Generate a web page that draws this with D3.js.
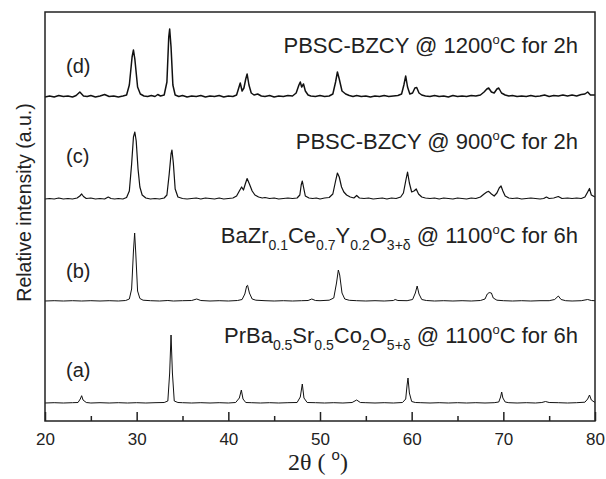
<!DOCTYPE html>
<html>
<head>
<meta charset="utf-8">
<script src="https://cdn.jsdelivr.net/npm/d3@7"></script>
<style>
  body { margin: 0; background: #fff; }
  text { font-family: "Liberation Sans", Arial, sans-serif; fill: #222; }
</style>
</head>
<body>
<div id="drawing_region"></div>
<script>
// 2theta (deg) vs intensity (a.u.)
const patternA = [[20,0],[21,0.3],[22,0],[23,0.3],[23.6,0.5],[23.85,4],[24.0,7.3],[24.15,3],[24.5,0.5],[25,0],[26,0.3],[27,0],[28,0.3],[29,0],[30,0.3],[31,0],[32,0.3],[33,0.5],[33.4,2],[33.6,30],[33.75,68],[33.9,30],[34.1,2],[34.5,0.5],[35,0.3],[36,0],[37,0.3],[38,0],[39,0.3],[40,0],[40.8,0.5],[41.2,5],[41.42,13],[41.6,4],[41.9,0.5],[42.5,0.3],[43.5,0],[44.5,0.3],[45.5,0],[46.5,0.3],[47.5,0.5],[47.85,6],[48.07,19],[48.25,5],[48.6,0.5],[49.5,0.3],[50.5,0],[51.5,0.3],[52.5,0],[53.5,0.5],[54.0,3],[54.4,0.5],[55,0.3],[56,0],[57,0.3],[58,0],[59,0.5],[59.35,4],[59.5,18],[59.6,25],[59.75,10],[60,1.5],[60.4,0.5],[61,0.3],[62,0],[63,0.3],[64,0],[65,0.3],[66,0],[67,0.3],[68,0],[69,0.3],[69.5,1],[69.7,6],[69.82,11],[69.95,5],[70.2,1],[70.6,0.3],[71.5,0],[72.5,0.3],[73.5,0],[74.2,0.5],[74.6,1.5],[75,0.5],[76,0.3],[77,0],[78,0.3],[78.9,0.8],[79.2,4],[79.4,8],[79.6,3],[80,0.5]];

const patternB = [[20,0],[21,0.3],[22,0],[23,0.3],[24,0],[25,0.3],[26,0],[27,0.3],[28,0],[28.8,0.5],[29.2,2],[29.45,12],[29.65,50],[29.78,68],[29.9,48],[30.1,10],[30.35,2.5],[30.7,0.8],[31.5,0.3],[32.5,0],[33.4,0.5],[34,0],[35,0.3],[36,0.5],[36.55,2],[37,0.5],[38,0],[39,0.3],[40,0],[41,0.5],[41.5,1.5],[41.8,7],[42.0,15],[42.1,15.7],[42.3,8],[42.6,2],[43,0.8],[44,0.3],[45,0],[46,0.3],[47,0],[48,0.3],[48.7,0.5],[49.1,2],[49.5,0.5],[50,0.3],[51,0.8],[51.5,3],[51.8,18],[52.0,31],[52.15,26],[52.4,8],[52.7,2],[53.2,0.7],[54,0.3],[55,0],[56,0.3],[57,0],[58,0.5],[58.2,1.5],[58.5,0.5],[59.5,0.3],[60.1,1.5],[60.4,8],[60.6,15],[60.8,7],[61.1,1.5],[61.6,0.5],[62.5,0],[63.5,0.3],[64.5,0],[65.5,0.3],[66.5,0],[67.5,0.5],[68.0,2],[68.25,7],[68.45,8.4],[68.7,8],[68.9,3],[69.3,0.8],[70,0.3],[71,0],[72,0.3],[73,0],[74,0.3],[75,0.3],[75.6,1.5],[76.0,5],[76.3,1.5],[76.8,0.3],[77.5,0],[78.5,0.3],[79.2,1.5],[79.6,0.5],[80,0.3]];

const patternC = [[20,0],[20.5,0.5],[21,0],[21.5,1],[22,0],[22.5,0.5],[23,0],[23.5,1],[23.8,3],[24.0,5],[24.2,2.5],[24.5,0.5],[25,1],[25.5,0],[26,0.5],[26.5,0],[26.9,2],[27.2,0.5],[27.6,0],[28,0.5],[28.5,0],[28.9,1.5],[29.2,8],[29.45,35],[29.65,62],[29.8,67],[29.95,58],[30.15,30],[30.35,12],[30.6,4],[31,1],[31.5,0],[32,0.5],[32.5,0],[33,1],[33.3,4],[33.55,25],[33.75,45],[33.85,49],[34.0,36],[34.2,10],[34.5,2],[35,0.5],[35.5,0],[36,0.5],[36.5,1],[37,0],[37.5,1],[38,0.5],[38.5,0],[39,1],[39.5,0],[40,0.5],[40.5,1],[40.9,3],[41.2,8],[41.45,12],[41.65,9],[41.85,15],[42.05,20.5],[42.3,15],[42.6,8],[42.9,4],[43.3,2],[43.7,1],[44,1.5],[44.5,0.5],[45,1],[45.5,0],[46,0.5],[46.5,1],[47,0.5],[47.5,1],[47.8,4],[47.95,14],[48.07,18],[48.2,12],[48.4,3],[48.8,1],[49.2,0.5],[49.6,1],[50,0],[50.5,1],[51,1.5],[51.4,5],[51.7,18],[51.9,26],[52.1,22],[52.35,12],[52.6,7],[52.9,4],[53.3,2],[53.7,1],[54.0,3.5],[54.3,1],[54.8,0.5],[55.3,1],[55.8,0],[56.3,0.5],[56.8,1],[57.3,0],[57.8,1],[58.3,0.5],[58.8,2],[59.1,6],[59.35,18],[59.55,27],[59.75,16],[60.0,7],[60.25,8],[60.5,10],[60.75,5],[61.1,2],[61.5,1],[62,0.5],[62.5,1],[63,0],[63.5,1],[64,0.5],[64.5,0],[65,1],[65.5,0.5],[66,0],[66.5,1],[67,0.5],[67.5,2],[67.9,5],[68.2,7],[68.4,7.6],[68.7,5],[69.0,3],[69.3,6],[69.55,11],[69.75,13],[69.95,8],[70.2,3],[70.6,1],[71,0.5],[71.5,1],[72,0],[72.5,0.5],[73,1],[73.5,0.5],[74,0],[74.4,0.5],[74.7,2],[75,0.5],[75.5,1],[76,2.5],[76.4,0.5],[77,1],[77.5,0.5],[78,1],[78.5,0.5],[78.9,2],[79.2,7],[79.4,10.5],[79.6,4],[80,2]];

const patternD = [[20,0],[20.5,1],[21,0],[21.5,1.5],[22,0.5],[22.5,1],[23,0],[23.4,1.5],[23.8,5],[24.2,1],[24.6,0.5],[25,1.5],[25.5,0],[26,1],[26.5,2.5],[27,0.5],[27.5,1],[28,0],[28.5,1],[28.9,2],[29.2,12],[29.5,40],[29.65,47],[29.8,38],[30.1,10],[30.4,3],[30.8,1],[31.2,0.5],[31.6,1.5],[32,0.5],[32.3,2.5],[32.6,1],[33,2],[33.3,15],[33.5,60],[33.6,68],[33.75,50],[33.95,12],[34.2,2],[34.6,0.5],[35,1.5],[35.5,0],[36,1],[36.5,0.5],[37,1.5],[37.5,0],[38,1],[38.5,0.5],[39,1.5],[39.5,0],[40,1],[40.5,0.5],[40.9,2],[41.1,8],[41.3,14],[41.5,6],[41.7,9],[41.9,18],[42.05,23],[42.25,12],[42.5,4],[42.8,2],[43.2,3],[43.6,1],[44,0.5],[44.5,1.5],[45,0],[45.5,1],[46,0.5],[46.5,1.5],[47,1],[47.4,4],[47.7,12],[47.85,15],[48.0,10],[48.2,13],[48.4,6],[48.7,2],[49,1],[49.5,0.5],[50,1.5],[50.5,0.5],[51,1],[51.4,3],[51.7,15],[51.9,25],[52.1,18],[52.4,6],[52.8,3],[53.2,1.5],[53.6,0.5],[54,1.5],[54.5,0.5],[55,1],[55.5,0],[56,1],[56.5,0.5],[57,1.5],[57.5,0.5],[58,1],[58.5,1.5],[58.9,3],[59.15,12],[59.35,21],[59.55,10],[59.8,3],[60.1,4],[60.35,9],[60.55,9.5],[60.8,4],[61.1,2],[61.5,1],[62,0.5],[62.5,1.5],[63,0.5],[63.5,1],[64,0],[64.5,1.5],[65,0.5],[65.5,1],[66,0.5],[66.5,1.5],[67,1],[67.5,2],[67.9,5],[68.2,8],[68.4,9],[68.7,5],[69.0,4],[69.3,8],[69.5,9],[69.8,4],[70.2,2],[70.6,1],[71,1.5],[71.5,0.5],[72,1],[72.5,0.5],[73,1.5],[73.5,0.5],[74,1],[74.5,2],[75,0.5],[75.5,1.5],[76,1],[76.5,2],[77,1],[77.5,2],[78,1],[78.5,2.5],[78.9,3],[79.2,5],[79.5,2],[80,2]];

const tags = ['(a)', '(b)', '(c)', '(d)'];

// text pieces: [text, kind] kind = '' | 'sub' | 'sup'
const titleA = [['PrBa',''],['0.5','sub'],['Sr',''],['0.5','sub'],['Co',''],['2','sub'],['O',''],['5+δ','sub'],[' @ 1100',''],['o','sup'],['C for 6h','']];
const titleB = [['BaZr',''],['0.1','sub'],['Ce',''],['0.7','sub'],['Y',''],['0.2','sub'],['O',''],['3+δ','sub'],[' @ 1100',''],['o','sup'],['C for 6h','']];
const titleC = [['PBSC-BZCY @ 900',''],['o','sup'],['C for 2h','']];
const titleD = [['PBSC-BZCY @ 1200',''],['o','sup'],['C for 2h','']];

const majorTicks = [20, 30, 40, 50, 60, 70, 80];
const minorTicks = [25, 35, 45, 55, 65, 75];

const xLabel = '2θ';
const yLabel = 'Relative intensity (a.u.)';

const config = {
    parent: '#drawing_region',
    width: 606,
    height: 479,
    margin: { top: 12, right: 11, bottom: 58, left: 45 },
};

const svg = d3.select(config.parent)
    .append('svg')
    .attr('width', config.width)
    .attr('height', config.height);

const m = config.margin;
const innerW = config.width - m.left - m.right;
const innerH = config.height - m.top - m.bottom;

const x = d3.scaleLinear().domain([20, 80]).range([m.left, m.left + innerW]);
const y = d3.scaleLinear().domain([0, 409]).range([m.top + innerH, m.top]);

const traces = [
    { data: patternA, offset: 18, width: 1.0, tag: tags[0], tagY: 377, title: titleA, titleY: 343 },
    { data: patternB, offset: 120, width: 1.0, tag: tags[1], tagY: 278, title: titleB, titleY: 243 },
    { data: patternC, offset: 222, width: 1.2, tag: tags[2], tagY: 163, title: titleC, titleY: 149 },
    { data: patternD, offset: 324, width: 1.5, tag: tags[3], tagY: 73, title: titleD, titleY: 53 },
];

traces.forEach(t => {
    const line = d3.line()
        .x(d => x(d[0]))
        .y(d => y(d[1] + t.offset));

    svg.append('path')
        .datum(t.data)
        .attr('d', line)
        .attr('fill', 'none')
        .attr('stroke', '#111')
        .attr('stroke-width', t.width)
        .attr('stroke-linejoin', 'round');

    svg.append('text')
        .attr('x', 66)
        .attr('y', t.tagY)
        .attr('font-size', 20)
        .text(t.tag);

    const txt = svg.append('text')
        .attr('x', 578)
        .attr('y', t.titleY)
        .attr('text-anchor', 'end')
        .attr('font-size', 22);
    let shift = 0;
    t.title.forEach(p => {
        let target = 0, size = 22;
        if (p[1] === 'sub') { target = 7; size = 14; }
        if (p[1] === 'sup') { target = -9; size = 13; }
        txt.append('tspan')
            .attr('dy', target - shift)
            .attr('font-size', size)
            .text(p[0]);
        shift = target;
    });
});

// frame
svg.append('rect')
    .attr('x', m.left)
    .attr('y', m.top)
    .attr('width', innerW)
    .attr('height', innerH)
    .attr('fill', 'none')
    .attr('stroke', '#222')
    .attr('stroke-width', 1.5);

// ticks, pointing inwards
const axisG = svg.append('g')
    .attr('transform', `translate(0,${m.top + innerH})`)
    .call(d3.axisBottom(x).tickValues(majorTicks).tickSize(-9).tickPadding(12).tickFormat(d3.format('d')));
axisG.select('.domain').remove();
axisG.selectAll('line').attr('stroke', '#222').attr('stroke-width', 1.5);
axisG.selectAll('text')
    .attr('font-size', 17)
    .attr('font-family', '"Liberation Sans", Arial, sans-serif')
    .attr('fill', '#222');

const minorG = svg.append('g')
    .attr('transform', `translate(0,${m.top + innerH})`)
    .call(d3.axisBottom(x).tickValues(minorTicks).tickSize(-5).tickFormat(''));
minorG.select('.domain').remove();
minorG.selectAll('line').attr('stroke', '#222').attr('stroke-width', 1.5);

// axis titles
const serif = '"Liberation Serif", "Times New Roman", serif';
const xt = svg.append('text')
    .attr('x', 318)
    .attr('y', 470)
    .attr('text-anchor', 'middle')
    .attr('font-size', 24);
xt.append('tspan').style('font-family', serif).text(xLabel + ' ( ');
xt.append('tspan').attr('dy', -10).attr('font-size', 15).text('o');
xt.append('tspan').attr('dy', 10).style('font-family', serif).text(')');

svg.append('text')
    .attr('transform', `translate(31,${m.top + innerH / 2 - 14}) rotate(-90)`)
    .attr('text-anchor', 'middle')
    .attr('font-size', 19.5)
    .text(yLabel);
</script>
</body>
</html>
